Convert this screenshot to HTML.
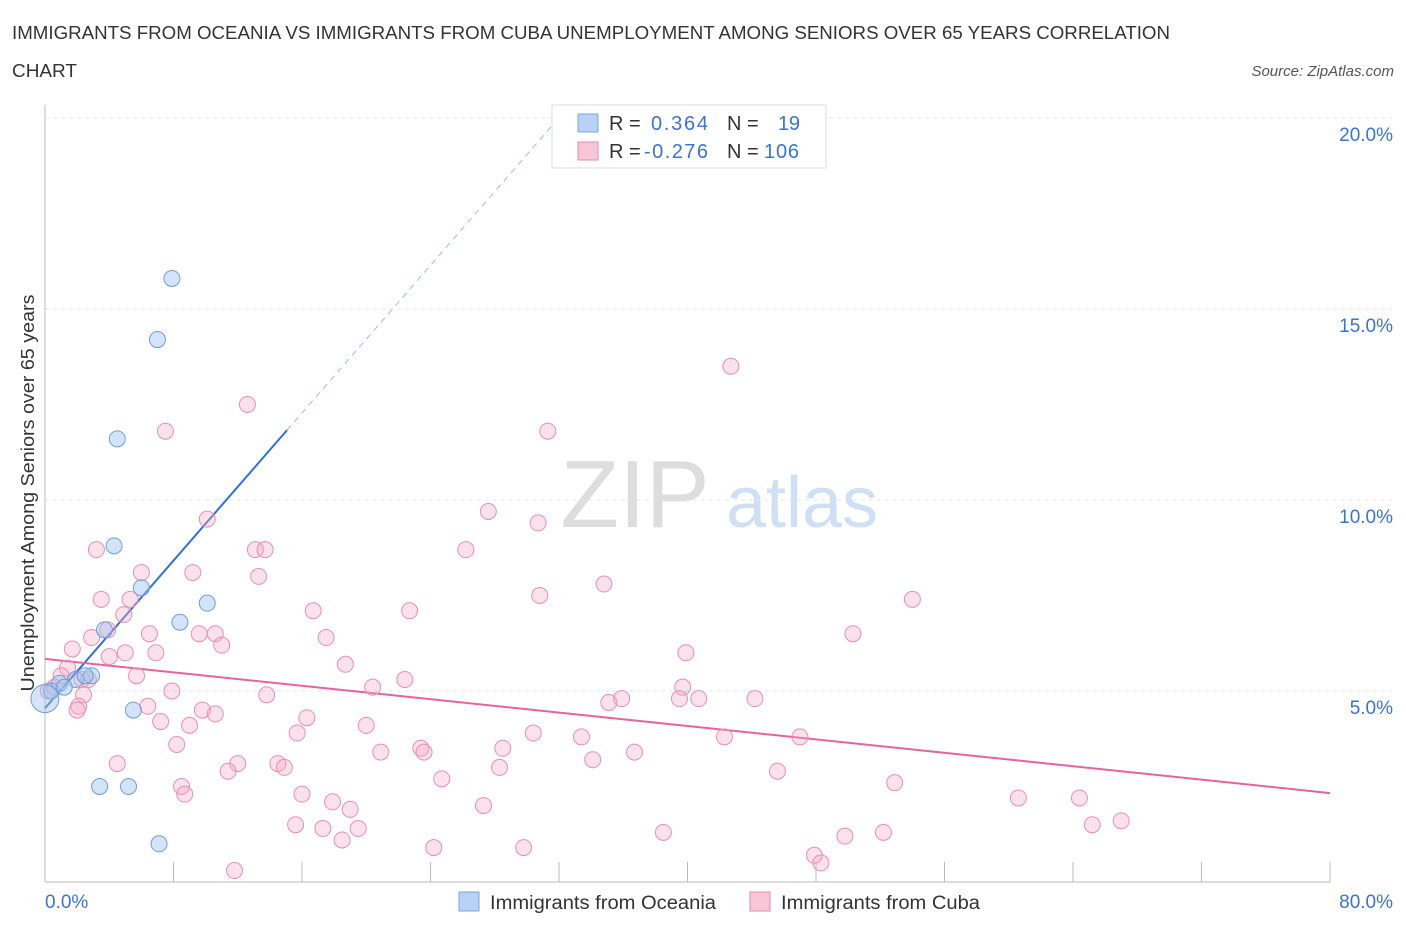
<!DOCTYPE html>
<html><head><meta charset="utf-8"><style>
body{margin:0;background:#fff;font-family:"Liberation Sans",sans-serif;}
svg text{font-family:"Liberation Sans",sans-serif;}
</style></head><body>
<svg id="chart" width="1406" height="930" viewBox="0 0 1406 930" xmlns="http://www.w3.org/2000/svg">
<text x="12" y="39" font-size="18" fill="#333" textLength="1158" lengthAdjust="spacingAndGlyphs">IMMIGRANTS FROM OCEANIA VS IMMIGRANTS FROM CUBA UNEMPLOYMENT AMONG SENIORS OVER 65 YEARS CORRELATION</text>
<text x="12" y="77" font-size="18" fill="#333" textLength="65" lengthAdjust="spacingAndGlyphs">CHART</text>
<text x="1394" y="76" font-size="15" fill="#555" font-style="italic" text-anchor="end">Source: ZipAtlas.com</text>
<g>
<text x="635" y="527" font-size="96" fill="#ddd" font-family="Liberation Serif,serif" text-anchor="middle">ZIP</text>
<text x="802" y="527" font-size="72" fill="#cfe0f4" text-anchor="middle">atlas</text>
</g>
<g id="grid"></g>
<g id="axes"></g>
<g id="trend"></g>
<g id="pts"></g>
<text transform="translate(34,493) rotate(-90)" font-size="18" fill="#333" text-anchor="middle" textLength="397" lengthAdjust="spacingAndGlyphs">Unemployment Among Seniors over 65 years</text>
<g>
<rect x="552" y="105" width="274" height="63" fill="#fff" stroke="#ddd"/>
<rect x="578" y="114" width="20" height="18" fill="#b8d2f6" stroke="#7aa6e0"/>
<rect x="578" y="142" width="20" height="18" fill="#f8c6d6" stroke="#e98aaa"/>
<text x="609" y="130" font-size="20" fill="#333">R =</text>
<text x="651" y="130" font-size="20" fill="#3b74d0" textLength="57">0.364</text>
<text x="727" y="130" font-size="20" fill="#333">N =</text>
<text x="778" y="130" font-size="20" fill="#3b74d0" textLength="22">19</text>
<text x="609" y="158" font-size="20" fill="#333">R =</text>
<text x="644" y="158" font-size="20" fill="#3b74d0" textLength="64">-0.276</text>
<text x="727" y="158" font-size="20" fill="#333">N =</text>
<text x="764" y="158" font-size="20" fill="#3b74d0" textLength="35">106</text>
</g>
<g>
<rect x="459" y="892" width="20" height="19" fill="#b8d2f6" stroke="#7aa6e0"/>
<text x="490" y="909" font-size="19" fill="#333" textLength="226" lengthAdjust="spacingAndGlyphs">Immigrants from Oceania</text>
<rect x="750" y="892" width="20" height="19" fill="#f8c6d6" stroke="#e98aaa"/>
<text x="781" y="909" font-size="19" fill="#333" textLength="199" lengthAdjust="spacingAndGlyphs">Immigrants from Cuba</text>
</g>
</svg>
<script>
const xTicks=[0,8,16,24,32,40,48,56,64,72,80];
const yTicks=[5,10,15,20];
const yTickLabels=["5.0%","10.0%","15.0%","20.0%"];
const oceaniaX=[7.9,7.0,4.5,4.3,6.0,10.1,8.4,3.7,2.9,1.9,0.9,0.4,0.0,5.5,3.4,5.2,7.1,2.5,1.2];
const oceaniaY=[15.8,14.2,11.6,8.8,7.7,7.3,6.8,6.6,5.4,5.3,5.2,5.0,4.8,4.5,2.5,2.5,1.0,5.4,5.1];
const cubaX=[42.7,12.6,7.5,31.3,27.6,10.1,30.7,3.2,13.1,13.7,26.2,9.2,13.3,6.0,34.8,3.5,5.3,30.8,54.0,22.7,16.7,4.9,3.9,6.5,2.9,9.6,10.6,17.5,50.3,11.0,1.7,6.9,5.0,4.0,39.9,18.7,1.4,5.7,22.4,20.4,2.3,7.9,39.7,0.2,13.8,35.9,40.7,35.1,39.5,44.2,2.4,2.1,6.4,9.8,10.6,16.3,7.2,9.0,20.0,15.7,30.4,33.4,42.3,47.0,8.2,23.4,28.5,20.9,23.6,36.7,34.1,12.0,14.5,14.9,4.5,24.7,28.3,11.4,45.6,8.5,52.9,8.7,16.0,17.9,60.6,64.4,19.0,27.3,15.6,67.0,65.2,17.3,19.5,38.5,52.2,49.8,18.5,24.2,29.8,47.9,48.3,11.8,1.0,2.7,0.6,2.0];
const cubaY=[13.5,12.5,11.8,11.8,9.7,9.5,9.4,8.7,8.7,8.7,8.7,8.1,8.0,8.1,7.8,7.4,7.4,7.5,7.4,7.1,7.1,7.0,6.6,6.5,6.4,6.5,6.5,6.4,6.5,6.2,6.1,6.0,6.0,5.9,6.0,5.7,5.6,5.4,5.3,5.1,5.3,5.0,5.1,5.0,4.9,4.8,4.8,4.7,4.8,4.8,4.9,4.6,4.6,4.5,4.4,4.3,4.2,4.1,4.1,3.9,3.9,3.8,3.8,3.8,3.6,3.5,3.5,3.4,3.4,3.4,3.2,3.1,3.1,3.0,3.1,2.7,3.0,2.9,2.9,2.5,2.6,2.3,2.3,2.1,2.2,2.2,1.9,2.0,1.5,1.6,1.5,1.4,1.4,1.3,1.3,1.2,1.1,0.9,0.9,0.7,0.5,0.3,5.4,5.3,5.1,4.5];
const oceaniaTrend=[4.55,0.483];
const cubaTrend=[5.84,-0.0439];

const NS="http://www.w3.org/2000/svg";
const X0=45,X1=1330,Y0=882,YT=118;
const sx=v=>X0+(v/80)*(X1-X0);
const sy=v=>Y0-(v/20)*(Y0-YT);
function mk(tag,attrs,parent){const e=document.createElementNS(NS,tag);for(const k in attrs)e.setAttribute(k,attrs[k]);parent.appendChild(e);return e;}
const grid=document.getElementById('grid'),axes=document.getElementById('axes');
yTicks.forEach((t,i)=>{
  const l=mk('line',{x1:X0,x2:1392,y1:sy(t),y2:sy(t),stroke:'#e4e4e4','stroke-dasharray':'4,4'},grid);
  
  
  const tx=mk('text',{x:1393,y:sy(t)+23,'font-size':19,fill:'#3b74d0','text-anchor':'end'},axes);
  tx.textContent=yTickLabels[i];
  
  
});
const ax=mk('line',{x1:X0,x2:X1,y1:Y0,y2:Y0,stroke:'#bbb'},axes);


const ay=mk('line',{x1:X0,x2:X0,y1:105,y2:Y0,stroke:'#bbb'},axes);


xTicks.forEach(t=>{
  const l=mk('line',{x1:sx(t),x2:sx(t),y1:Y0,y2:Y0-20,stroke:'#bbb'},axes);
  
  
});
[[0,"0.0%","start",45],[80,"80.0%","end",1393]].forEach(a=>{
  const tx=mk('text',{x:a[3],y:908,'font-size':19,fill:'#3b74d0','text-anchor':a[2]},axes);
  tx.textContent=a[1];
  
  
});
const tr=document.getElementById('trend');
const xs=15.07, xe=(20-oceaniaTrend[0])/oceaniaTrend[1];
let l1=mk('line',{x1:sx(0),y1:sy(oceaniaTrend[0]),x2:sx(xs),y2:sy(oceaniaTrend[0]+oceaniaTrend[1]*xs),stroke:'#2f6fd6','stroke-width':2},tr);


let l2=mk('line',{x1:sx(xs),y1:sy(oceaniaTrend[0]+oceaniaTrend[1]*xs),x2:sx(xe),y2:sy(20),stroke:'#9bbbe8','stroke-width':1,'stroke-dasharray':'6,5'},tr);


let l3=mk('line',{x1:sx(0),y1:sy(cubaTrend[0]),x2:sx(80),y2:sy(cubaTrend[0]+cubaTrend[1]*80),stroke:'#e8639a','stroke-width':2},tr);


const pts=document.getElementById('pts');
cubaX.forEach((x,i)=>{
  const c=mk('circle',{cx:sx(x),cy:sy(cubaY[i]),r:8,fill:'rgba(244,170,196,0.35)',stroke:'#ea8fb0','stroke-width':1},pts);
  
  
});
oceaniaX.forEach((x,i)=>{
  const c=mk('circle',{cx:sx(x),cy:sy(oceaniaY[i]),r:(i==12?14:8),fill:'rgba(160,195,240,0.45)',stroke:'#6f9ddc','stroke-width':1},pts);
  
  
});
</script>
</body></html>
